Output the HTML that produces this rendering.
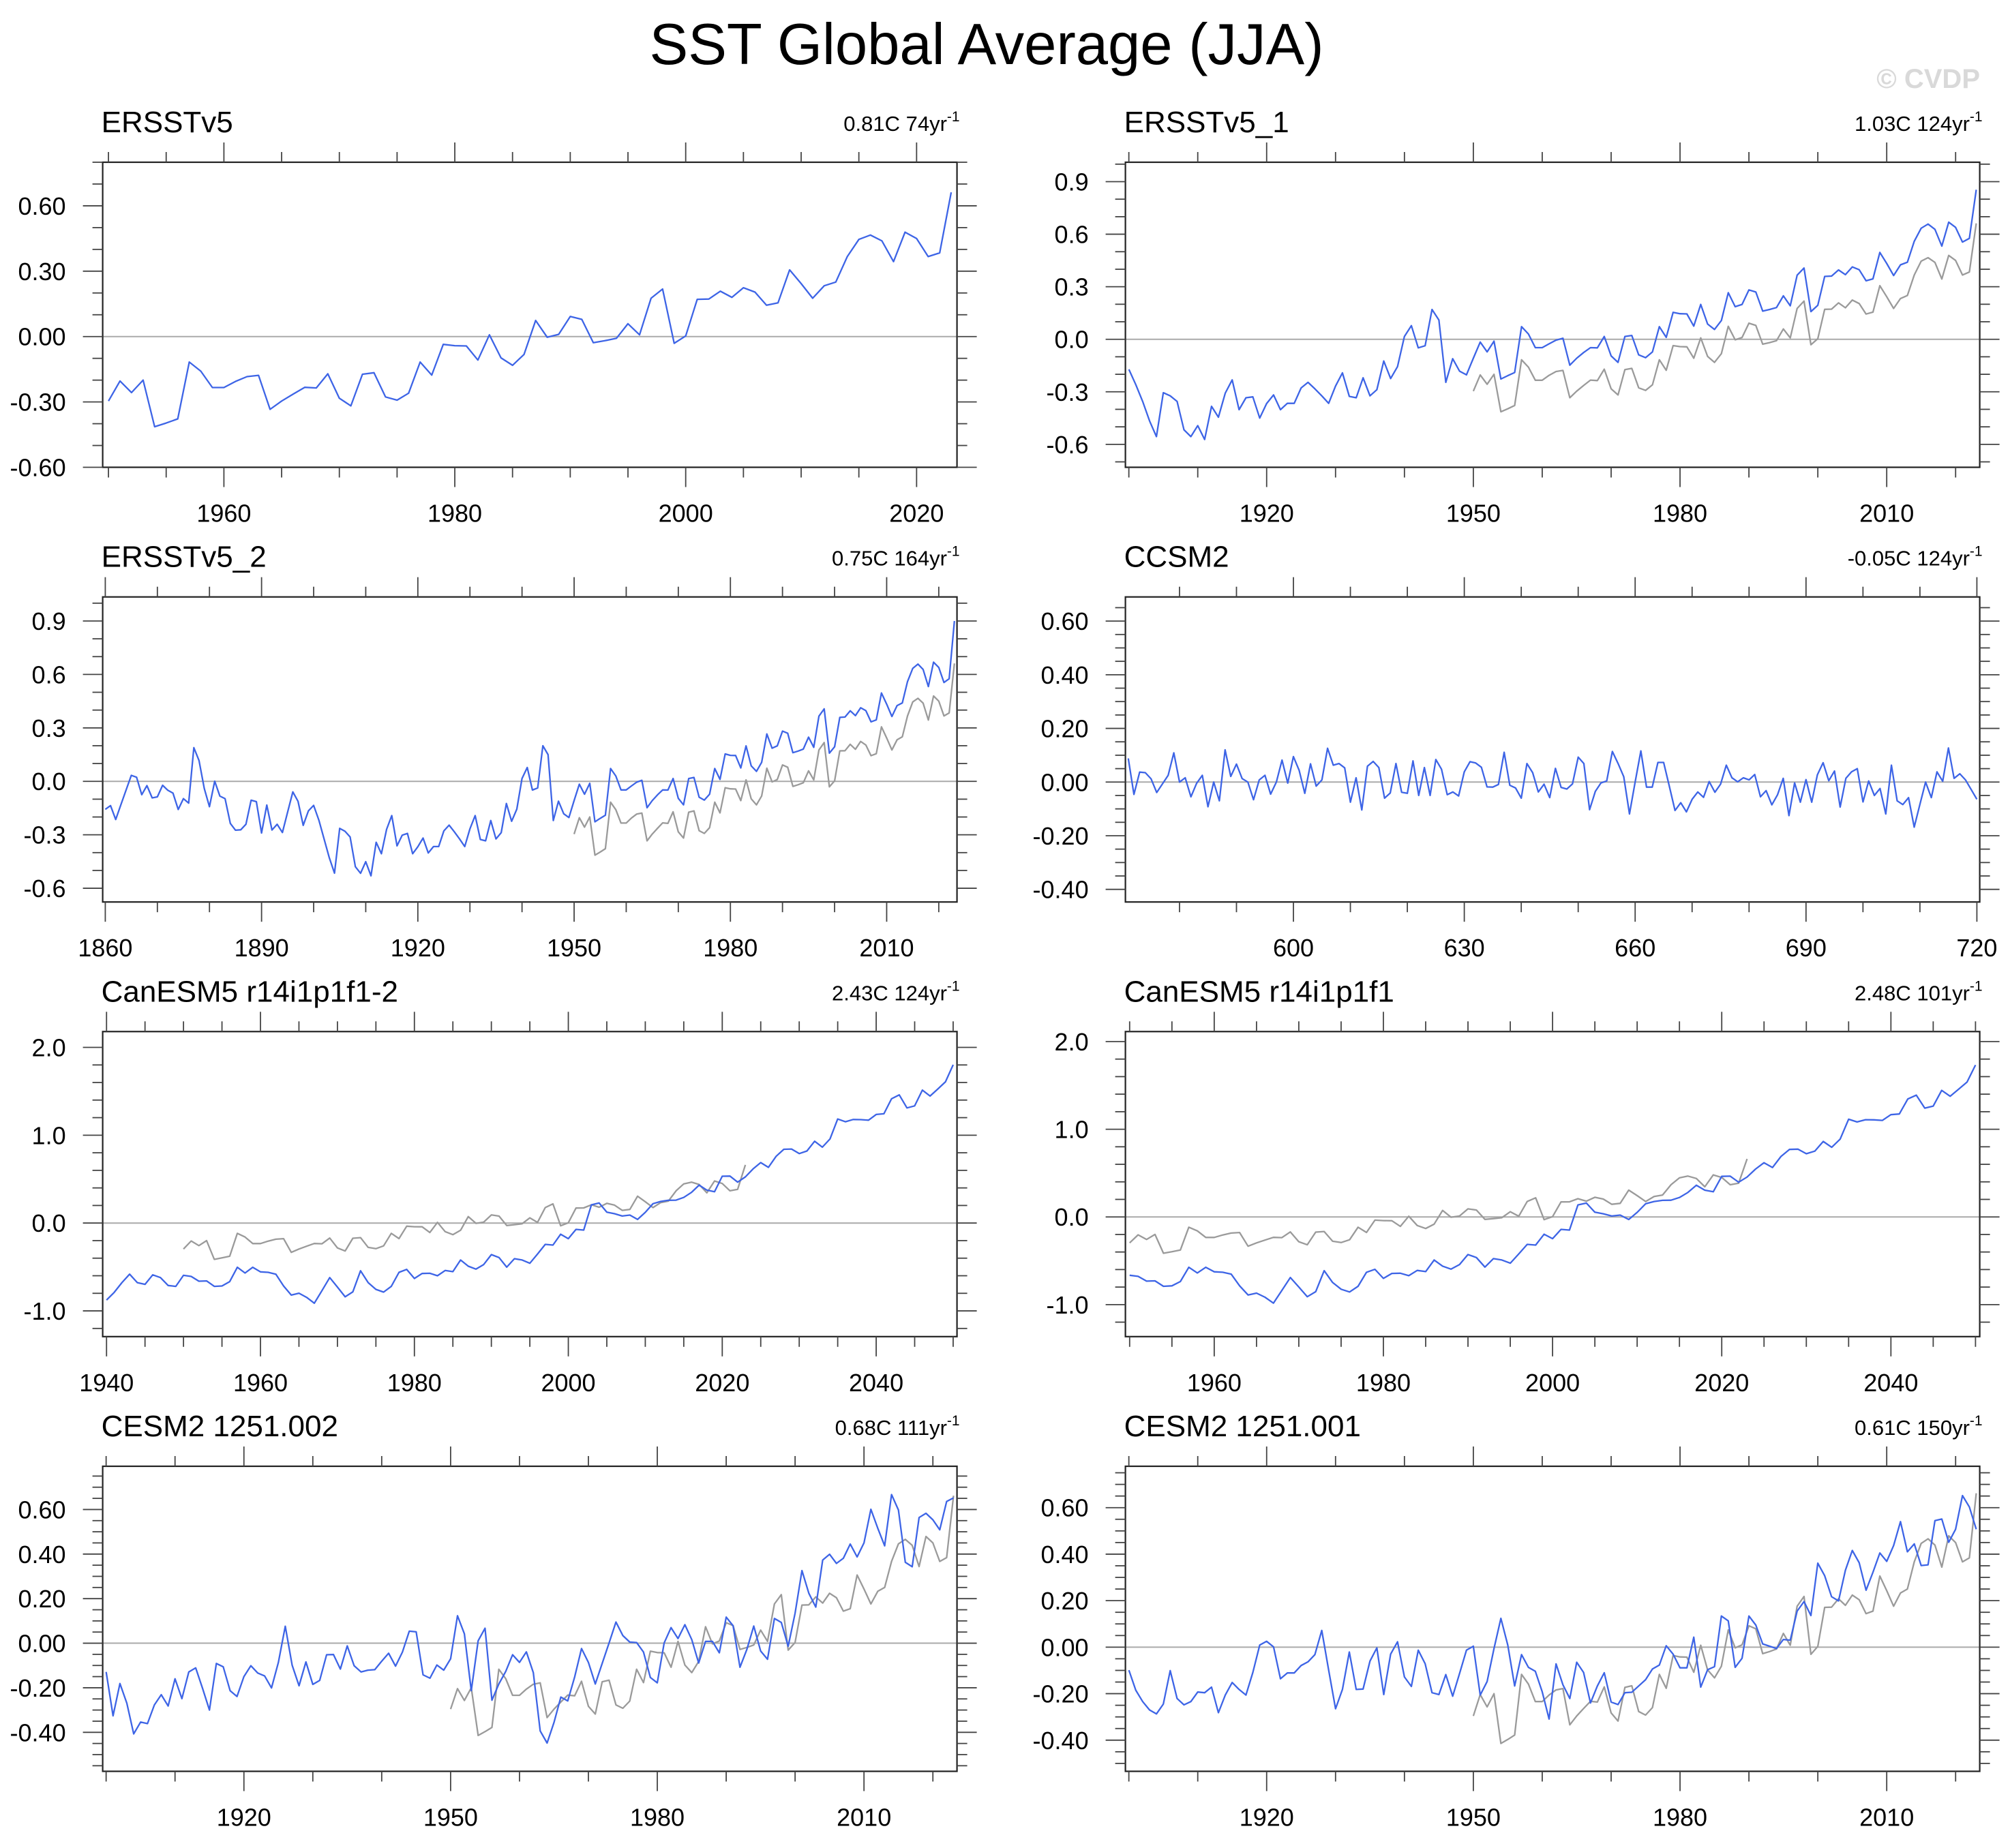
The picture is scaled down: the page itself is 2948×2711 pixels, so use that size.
<!DOCTYPE html>
<html><head><meta charset="utf-8"><title>SST Global Average (JJA)</title>
<style>
html,body{margin:0;padding:0;background:#fff;}
svg{display:block;font-family:"Liberation Sans",Arial,sans-serif;}
</style></head>
<body>
<svg id="chart" xmlns="http://www.w3.org/2000/svg" width="2948" height="2711" viewBox="0 0 2948 2711">
<rect x="0" y="0" width="2948" height="2711" fill="#fff"/>
<text x="1447" y="94" font-size="85" text-anchor="middle" fill="#000">SST Global Average (JJA)</text>
<text x="2904" y="129" font-size="40" font-weight="bold" text-anchor="end" fill="#d9d9d9">© CVDP</text>
<g id="panels"></g>
</svg>
<script>
// ---------- data ----------
var obsYears = [1950, 2023];
var obsValues = [-0.296,-0.204,-0.257,-0.200,-0.414,-0.397,-0.378,-0.117,-0.159,-0.234,
-0.234,-0.206,-0.184,-0.178,-0.334,-0.296,-0.264,-0.233,-0.236,-0.171,
-0.283,-0.318,-0.173,-0.166,-0.277,-0.292,-0.260,-0.117,-0.177,-0.036,
-0.042,-0.043,-0.108,0.008,-0.098,-0.132,-0.082,0.074,-0.003,0.010,
0.092,0.079,-0.028,-0.019,-0.008,0.059,0.008,0.176,0.218,-0.031,
0.003,0.171,0.172,0.208,0.180,0.224,0.204,0.144,0.155,0.306,
0.243,0.176,0.233,0.250,0.367,0.446,0.466,0.439,0.344,0.479,
0.450,0.367,0.384,0.662];

var ersst1Values = [-0.172,-0.259,-0.355,-0.466,-0.556,-0.305,-0.323,-0.355,-0.517,-0.556,
-0.493,-0.572,-0.383,-0.445,-0.307,-0.232,-0.402,-0.334,-0.329,-0.450,
-0.367,-0.318,-0.402,-0.366,-0.366,-0.278,-0.246,-0.283,-0.323,-0.366,
-0.267,-0.192,-0.326,-0.334,-0.220,-0.323,-0.288,-0.124,-0.224,-0.156,
0.016,0.078,-0.049,-0.037,0.170,0.110,-0.246,-0.111,-0.182,-0.203,
-0.108,-0.016,-0.072,-0.011,-0.227,-0.208,-0.190,0.072,0.030,-0.048,
-0.048,-0.026,-0.005,0.006,-0.148,-0.108,-0.076,-0.048,-0.049,0.016,
-0.095,-0.132,0.016,0.022,-0.089,-0.105,-0.072,0.072,0.011,0.154,
0.146,0.145,0.075,0.199,0.087,0.056,0.107,0.266,0.186,0.199,
0.282,0.270,0.161,0.170,0.181,0.248,0.191,0.366,0.407,0.158,
0.194,0.359,0.361,0.396,0.369,0.413,0.397,0.334,0.345,0.496,
0.433,0.364,0.425,0.440,0.560,0.634,0.658,0.628,0.532,0.669,
0.639,0.555,0.576,0.854];

var ersst2Values = [-0.157,-0.136,-0.214,-0.131,-0.048,0.034,0.023,-0.075,-0.024,-0.093,
-0.087,-0.022,-0.050,-0.066,-0.158,-0.097,-0.122,0.189,0.117,-0.040,
-0.142,0.001,-0.083,-0.097,-0.236,-0.274,-0.272,-0.241,-0.106,-0.114,
-0.290,-0.133,-0.273,-0.241,-0.287,-0.173,-0.059,-0.112,-0.247,-0.165,
-0.135,-0.218,-0.323,-0.429,-0.515,-0.264,-0.280,-0.312,-0.479,-0.516,
-0.451,-0.530,-0.342,-0.406,-0.269,-0.192,-0.362,-0.302,-0.292,-0.406,
-0.367,-0.318,-0.402,-0.366,-0.366,-0.278,-0.246,-0.283,-0.323,-0.366,
-0.267,-0.192,-0.326,-0.334,-0.220,-0.323,-0.288,-0.124,-0.224,-0.156,
0.016,0.078,-0.049,-0.037,0.200,0.150,-0.220,-0.111,-0.182,-0.203,
-0.108,-0.016,-0.072,-0.011,-0.227,-0.208,-0.190,0.072,0.030,-0.048,
-0.048,-0.026,-0.005,0.006,-0.148,-0.108,-0.076,-0.048,-0.049,0.016,
-0.095,-0.132,0.016,0.022,-0.089,-0.105,-0.072,0.072,0.011,0.154,
0.146,0.145,0.075,0.199,0.087,0.056,0.107,0.266,0.186,0.199,
0.282,0.270,0.161,0.170,0.181,0.248,0.191,0.366,0.407,0.158,
0.194,0.359,0.361,0.396,0.369,0.413,0.397,0.334,0.345,0.496,
0.433,0.364,0.425,0.440,0.560,0.634,0.658,0.628,0.532,0.669,
0.639,0.555,0.576,0.900];

var ccsm2Values = [0.088,-0.046,0.037,0.035,0.012,-0.039,-0.007,0.025,0.109,0.000,
0.016,-0.055,-0.005,0.025,-0.092,0.000,-0.070,0.120,0.021,0.067,
0.013,0.000,-0.066,0.008,0.025,-0.045,0.000,0.082,-0.004,0.095,
0.044,-0.042,0.068,-0.015,0.008,0.126,0.063,0.069,0.053,-0.075,
0.016,-0.104,0.059,0.077,0.054,-0.060,-0.041,0.069,-0.038,-0.042,
0.079,-0.050,0.054,-0.050,0.084,0.048,-0.047,-0.037,-0.052,0.038,
0.076,0.071,0.055,-0.018,-0.019,-0.009,0.111,-0.012,-0.022,-0.060,
0.069,0.035,-0.037,-0.008,-0.058,
0.051,-0.020,-0.026,-0.007,0.093,0.069,-0.103,-0.035,-0.003,0.004,
0.114,0.069,0.020,-0.119,0.000,0.116,-0.019,-0.019,0.073,0.073,
-0.015,-0.106,-0.077,-0.111,-0.064,-0.037,-0.057,0.002,-0.038,-0.008,
0.063,0.016,0.001,0.016,0.008,0.028,-0.055,-0.032,-0.085,-0.047,
0.014,-0.125,-0.003,-0.075,0.009,-0.075,0.027,0.072,0.005,0.041,
-0.093,0.014,0.038,0.050,-0.074,0.004,-0.050,-0.024,-0.119,0.063,
-0.070,-0.084,-0.058,-0.168,-0.083,0.000,-0.058,0.038,0.003,0.127,
0.014,0.031,0.008,-0.028,-0.064];

var canesm2Values = [-0.877,-0.789,-0.678,-0.582,-0.678,-0.698,-0.590,-0.621,-0.711,-0.721,
-0.595,-0.608,-0.662,-0.659,-0.721,-0.716,-0.667,-0.504,-0.569,-0.504,
-0.556,-0.561,-0.582,-0.716,-0.820,-0.799,-0.846,-0.913,-0.768,-0.621,
-0.729,-0.840,-0.783,-0.543,-0.678,-0.755,-0.786,-0.721,-0.561,-0.528,
-0.631,-0.574,-0.572,-0.600,-0.540,-0.553,-0.421,-0.491,-0.525,-0.473,
-0.359,-0.393,-0.502,-0.406,-0.421,-0.458,-0.352,-0.243,-0.251,-0.127,
-0.178,-0.072,-0.080,0.207,0.228,0.124,0.106,0.080,0.091,0.041,
0.122,0.220,0.246,0.259,0.261,0.292,0.349,0.432,0.375,0.357,
0.533,0.535,0.466,0.525,0.616,0.688,0.634,0.760,0.840,0.843,
0.791,0.820,0.931,0.864,0.957,1.184,1.153,1.179,1.177,1.171,
1.236,1.244,1.415,1.459,1.311,1.334,1.513,1.446,1.526,1.608,
1.802];

var canesm1Values = [-0.665,-0.678,-0.732,-0.729,-0.791,-0.786,-0.737,-0.574,-0.639,-0.574,
-0.626,-0.631,-0.652,-0.786,-0.890,-0.869,-0.916,-0.983,-0.838,-0.691,
-0.799,-0.910,-0.853,-0.613,-0.748,-0.825,-0.856,-0.791,-0.631,-0.598,
-0.701,-0.644,-0.642,-0.670,-0.610,-0.623,-0.491,-0.561,-0.595,-0.543,
-0.429,-0.463,-0.572,-0.476,-0.491,-0.528,-0.422,-0.313,-0.321,-0.197,
-0.248,-0.142,-0.150,0.137,0.158,0.054,0.036,0.010,0.021,-0.029,
0.052,0.150,0.176,0.189,0.191,0.222,0.279,0.362,0.305,0.287,
0.463,0.465,0.396,0.455,0.546,0.618,0.564,0.690,0.770,0.773,
0.721,0.750,0.861,0.794,0.887,1.114,1.083,1.109,1.107,1.101,
1.166,1.174,1.345,1.389,1.241,1.264,1.443,1.376,1.456,1.538,
1.732];

var cesm002Values = [-0.129,-0.326,-0.181,-0.269,-0.407,-0.354,-0.361,-0.277,-0.231,-0.282,
-0.160,-0.249,-0.129,-0.111,-0.203,-0.300,-0.091,-0.106,-0.213,-0.239,
-0.150,-0.101,-0.134,-0.147,-0.201,-0.086,0.076,-0.099,-0.191,-0.084,
-0.185,-0.167,-0.052,-0.051,-0.116,-0.012,-0.101,-0.129,-0.121,-0.119,
-0.081,-0.045,-0.103,-0.040,0.054,0.051,-0.142,-0.157,-0.098,-0.121,
-0.070,0.123,0.042,-0.213,0.011,0.067,-0.256,-0.183,-0.127,-0.052,
-0.086,-0.039,-0.132,-0.394,-0.448,-0.356,-0.242,-0.259,-0.152,-0.024,
-0.086,-0.183,-0.091,0.001,0.095,0.034,0.005,0.003,-0.040,-0.154,
-0.178,0.001,0.070,0.021,0.083,0.016,-0.089,0.008,0.008,-0.043,
0.117,0.078,-0.108,-0.028,0.077,-0.035,-0.072,0.111,0.093,-0.014,
0.134,0.326,0.224,0.162,0.373,0.399,0.358,0.381,0.445,0.387,
0.450,0.601,0.516,0.437,0.667,0.598,0.363,0.343,0.564,0.583,
0.554,0.509,0.636,0.652];

var cesm001Values = [-0.099,-0.185,-0.234,-0.270,-0.287,-0.245,-0.101,-0.221,-0.248,-0.234,
-0.193,-0.196,-0.172,-0.282,-0.206,-0.152,-0.182,-0.206,-0.109,0.009,
0.025,0.001,-0.136,-0.111,-0.111,-0.079,-0.063,-0.032,0.072,-0.099,
-0.265,-0.182,-0.021,-0.182,-0.180,-0.060,-0.003,-0.204,-0.030,0.023,
-0.128,-0.169,-0.013,-0.071,-0.196,-0.204,-0.118,-0.211,-0.113,-0.013,
0.004,-0.206,-0.148,-0.006,0.124,0.009,-0.167,-0.032,-0.087,-0.104,
-0.192,-0.309,-0.072,-0.162,-0.221,-0.065,-0.109,-0.240,-0.167,-0.110,
-0.236,-0.247,-0.196,-0.194,-0.167,-0.140,-0.094,-0.077,0.006,-0.030,
-0.089,-0.089,0.043,-0.172,-0.097,-0.084,0.134,0.113,-0.087,-0.048,
0.134,0.095,0.014,0.004,-0.006,0.033,0.030,0.155,0.196,0.136,
0.361,0.307,0.217,0.199,0.331,0.416,0.363,0.245,0.322,0.405,
0.369,0.437,0.540,0.410,0.444,0.351,0.354,0.544,0.551,0.451,
0.507,0.652,0.603,0.507];

var panelTitles = ["ERSSTv5","ERSSTv5_1","ERSSTv5_2","CCSM2","CanESM5 r14i1p1f1-2","CanESM5 r14i1p1f1","CESM2 1251.002","CESM2 1251.001"];
var panelTrends = ["0.81C 74yr","1.03C 124yr","0.75C 164yr","-0.05C 124yr","2.43C 124yr","2.48C 101yr","0.68C 111yr","0.61C 150yr"];
var panelStartYears = [1950,1900,1860,571,1940,1950,1900,1900];
var yMajorTicks = [[-0.6,-0.3,0,0.3,0.6],[-0.6,-0.3,0,0.3,0.6,0.9],[-0.6,-0.3,0,0.3,0.6,0.9],[-0.4,-0.2,0,0.2,0.4,0.6],[-1,0,1,2],[-1,0,1,2],[-0.4,-0.2,0,0.2,0.4,0.6],[-0.4,-0.2,0,0.2,0.4,0.6]];
var xMajorTicks = [[1960,1980,2000,2020],[1920,1950,1980,2010],[1860,1890,1920,1950,1980,2010],[600,630,660,690,720],[1940,1960,1980,2000,2020,2040],[1960,1980,2000,2020,2040],[1920,1950,1980,2010],[1920,1950,1980,2010]];

// ---------- layout ----------
var NS = "http://www.w3.org/2000/svg";
var colX = [150.6, 1650.6], boxW = 1253, rowY = [238, 875.7, 1513.3, 2151], boxH = 447.5;
var cfg = [
 {vals:obsValues, gray:false, yr:[-0.6,0.8], ymin:[-0.6,0.8,0.1], dec:2, xmin:[1950,2020,5]},
 {vals:ersst1Values, gray:true, yr:[-0.731,1.011], ymin:[-0.7,1.0,0.1], dec:1, xmin:[1900,2020,10]},
 {vals:ersst2Values, gray:true, yr:[-0.677,1.035], ymin:[-0.6,1.0,0.1], dec:1, xmin:[1860,2020,10]},
 {vals:ccsm2Values, gray:false, yr:[-0.447,0.69], ymin:[-0.4,0.65,0.05], dec:2, xmin:[580,720,10]},
 {vals:canesm2Values, gray:true, yr:[-1.293,2.18], ymin:[-1.2,2.0,0.2], dec:1, xmin:[1940,2050,5]},
 {vals:canesm1Values, gray:true, yr:[-1.365,2.114], ymin:[-1.2,2.0,0.2], dec:1, xmin:[1950,2050,5]},
 {vals:cesm002Values, gray:true, yr:[-0.575,0.794], ymin:[-0.55,0.75,0.05], dec:2, xmin:[1900,2020,10]},
 {vals:cesm001Values, gray:true, yr:[-0.534,0.778], ymin:[-0.5,0.75,0.05], dec:2, xmin:[1900,2020,10]}
];
function mk(tag, attrs, parent){var e=document.createElementNS(NS,tag);for(var k in attrs)e.setAttribute(k,attrs[k]);parent.appendChild(e);return e;}
var root = document.getElementById("panels");
for (var p=0;p<8;p++){
  var c = cfg[p];
  var bx = colX[p%2], by = rowY[Math.floor(p/2)];
  var x0 = panelStartYears[p]-0.5, x1 = panelStartYears[p]+c.vals.length-1+0.5;
  if (p===3){x0=570.5;x1=720.5;}
  var sx = (function(bx,x0,x1){return function(v){return bx+(v-x0)/(x1-x0)*boxW;};})(bx,x0,x1);
  var sy = (function(by,y0,y1){return function(v){return by+boxH-(v-y0)/(y1-y0)*boxH;};})(by,c.yr[0],c.yr[1]);
  var g = mk("g",{},root);
  
  
  var t = mk("text",{x:bx-2,y:by-44,"font-size":44,fill:"#000"},g); t.textContent=panelTitles[p];
  
  
  var st = mk("text",{x:bx+boxW+4,y:by-46,"font-size":31,"text-anchor":"end",fill:"#000"},g);
  
  
  st.appendChild(document.createTextNode(panelTrends[p]));
  var sup = mk("tspan",{dy:-14,"font-size":21},st); sup.textContent="-1";
  // zero line
  var zl = mk("line",{x1:bx,x2:bx+boxW,y1:sy(0),y2:sy(0),stroke:"#aaa","stroke-width":2},g);
  
  
  // series
  function series(vals,start,color,name){
    var d="";
    for(var i=0;i<vals.length;i++){d+=(i?"L":"M")+sx(start+i).toFixed(1)+","+sy(vals[i]).toFixed(1);}
    var pth = mk("path",{d:d,fill:"none",stroke:color,"stroke-width":2.3,"stroke-linejoin":"round"},g);
    
    
  }
  if (c.gray) series(obsValues, obsYears[0], "#9a9a9a", "obs-series-line");
  series(c.vals, panelStartYears[p], "#3d64e6", "model-series-line");
  // frame
  var fr = mk("rect",{x:bx,y:by,width:boxW,height:boxH,fill:"none",stroke:"#222","stroke-width":2.2},g);
  
  
  var tg = mk("g",{stroke:"#444","stroke-width":1.8},g);
  
  
  // x ticks
  var xm = xMajorTicks[p];
  for (var v=c.xmin[0]; v<=c.xmin[1]+1e-6; v+=c.xmin[2]){
    var X=sx(v), maj = xm.indexOf(v)>=0, L = maj?29:15;
    mk("line",{x1:X,x2:X,y1:by,y2:by-L},tg);
    mk("line",{x1:X,x2:X,y1:by+boxH,y2:by+boxH+L},tg);
  }
  for (var k=0;k<xm.length;k++){
    var xl = mk("text",{x:sx(xm[k]),y:by+boxH+80,"font-size":36,"text-anchor":"middle",fill:"#000"},g);
    xl.textContent = String(xm[k]);
    
    
  }
  // y ticks
  var ym = yMajorTicks[p];
  var n = Math.round((c.ymin[1]-c.ymin[0])/c.ymin[2]);
  for (var j=0;j<=n;j++){
    var yv = c.ymin[0]+j*c.ymin[2];
    var Y = sy(yv), majY=false;
    for (var q=0;q<ym.length;q++) if (Math.abs(ym[q]-yv)<1e-6) majY=true;
    var LY = majY?29:15;
    mk("line",{x1:bx,x2:bx-LY,y1:Y,y2:Y},tg);
    mk("line",{x1:bx+boxW,x2:bx+boxW+LY,y1:Y,y2:Y},tg);
  }
  for (var q2=0;q2<ym.length;q2++){
    var yl = mk("text",{x:bx-54,y:sy(ym[q2])+13,"font-size":36,"text-anchor":"end",fill:"#000"},g);
    yl.textContent = ym[q2].toFixed(c.dec);
    
    
  }
}
</script>
</body></html>
